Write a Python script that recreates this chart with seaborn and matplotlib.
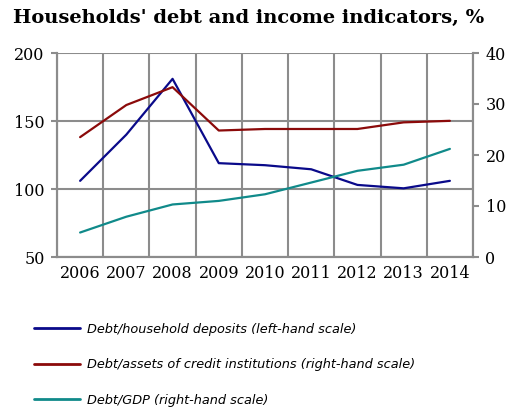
import matplotlib
matplotlib.use("Agg")
import matplotlib.pyplot as plt
import seaborn as sns
import pandas as pd
from matplotlib.lines import Line2D

years = ["2006", "2007", "2008", "2009", "2010", "2011", "2012", "2013", "2014"]
debt_deposits = [106, 140, 181, 119, 117.5, 114.5, 103, 100.5, 106]   # left-hand scale
debt_assets = [23.5, 29.8, 33.3, 24.8, 25.1, 25.1, 25.1, 26.4, 26.7]    # right-hand scale
debt_gdp = [4.8, 7.9, 10.3, 11.0, 12.3, 14.6, 16.9, 18.1, 21.2]         # right-hand scale

labels = ["Debt/household deposits (left-hand scale)",
          "Debt/assets of credit institutions (right-hand scale)",
          "Debt/GDP (right-hand scale)"]
colors = ["#0a0a8a", "#8b0a0a", "#108a8a"]

sns.set_theme(style="white")
plt.rcParams["font.family"] = ["DejaVu Serif"]
plt.rcParams["text.color"] = "black"
plt.rcParams["xtick.color"] = "black"
plt.rcParams["ytick.color"] = "black"

pos = list(range(len(years)))
df_left = pd.DataFrame({"pos": pos, "value": debt_deposits})
df_r1 = pd.DataFrame({"pos": pos, "value": debt_assets})
df_r2 = pd.DataFrame({"pos": pos, "value": debt_gdp})

fig = plt.figure(figsize=(5.13, 4.08), dpi=100)
ax = fig.add_axes([57/513, 1-257/408, (473-57)/513, (257-53)/408])
ax2 = ax.twinx()

grid_c = "#8c8c8c"
lw = 1.6

sns.lineplot(data=df_left, x="pos", y="value", ax=ax, color=colors[0], linewidth=lw)
sns.lineplot(data=df_r1, x="pos", y="value", ax=ax2, color=colors[1], linewidth=lw)
sns.lineplot(data=df_r2, x="pos", y="value", ax=ax2, color=colors[2], linewidth=lw)

ax.set_xlim(-0.5, len(years) - 0.5)
ax.set_ylim(50, 200)
ax.set_yticks([50, 100, 150, 200])
ax2.set_ylim(0, 40)
ax2.set_yticks([0, 10, 20, 30, 40])

ax.set_xticks(pos)
ax.set_xticklabels(years)
ax.set_xticks([p - 0.5 for p in pos] + [len(years) - 0.5], minor=True)
ax.tick_params(axis="x", which="major", length=0, pad=6, labelsize=11.5, labelcolor="black")
ax.tick_params(axis="x", which="minor", length=4, width=1.5, color=grid_c)
ax.tick_params(axis="y", which="major", length=4, width=1.5, color=grid_c, labelsize=11.5,
               pad=5, labelcolor="black")
ax2.tick_params(axis="y", which="major", length=4, width=1.5, color=grid_c, labelsize=11.5,
                pad=5, labelcolor="black")

ax.grid(True, axis="y", which="major", color=grid_c, linewidth=1.5)
ax.grid(True, axis="x", which="minor", color=grid_c, linewidth=1.5)
ax.grid(False, axis="x", which="major")
ax2.grid(False)
ax.set_axisbelow(True)

for a in (ax, ax2):
    a.set_xlabel("")
    a.set_ylabel("")
    for s in a.spines.values():
        s.set_color(grid_c)
        s.set_linewidth(1.5)
    a.spines["top"].set_visible(False)

fig.text(13/513, 1-18/408, "Households' debt and income indicators, %",
         ha="left", va="center", fontsize=14, fontweight="bold", family="DejaVu Serif",
         color="black")

handles = [Line2D([], [], color=c, linewidth=2) for c in colors]
fig.legend(handles, labels, loc="upper left", bbox_to_anchor=(22/513, 1-311/408),
           frameon=False, prop={"family": "DejaVu Sans", "style": "italic", "size": 9.3},
           handlelength=3.6, handletextpad=0.5, labelspacing=1.75, labelcolor="black")

fig.savefig("out.png", dpi=100)
